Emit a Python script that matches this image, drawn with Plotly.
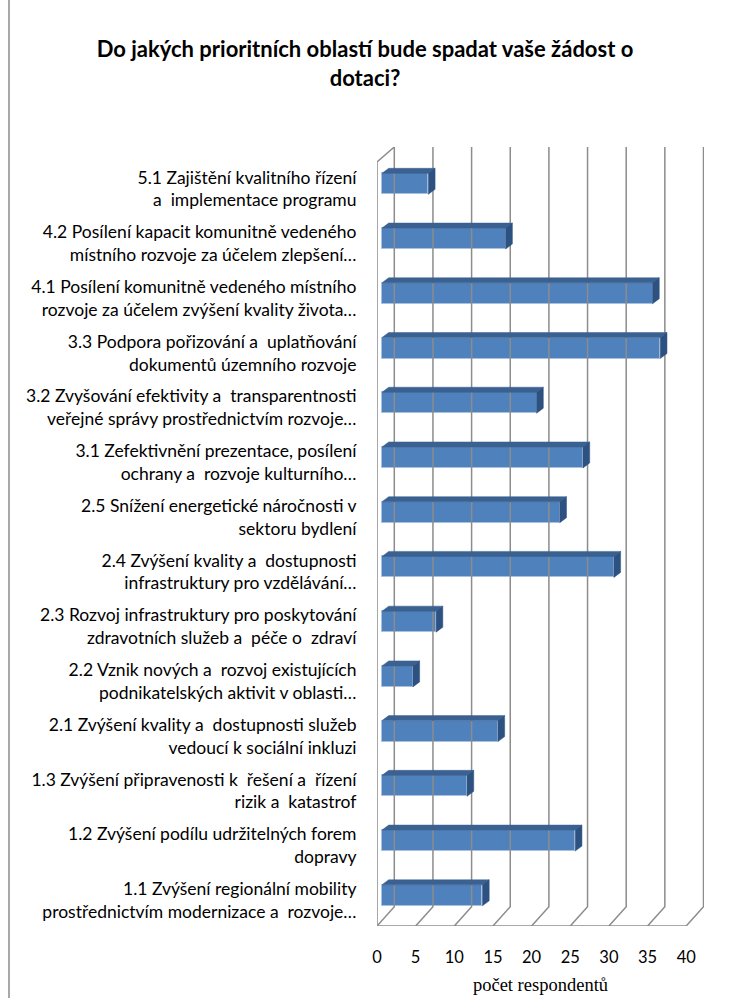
import plotly.graph_objects as go

# ---------------- data ----------------
categories = [
    "1.1 Zvýšení regionální mobility<br>prostřednictvím modernizace a  rozvoje…",
    "1.2 Zvýšení podílu udržitelných forem<br>dopravy",
    "1.3 Zvýšení připravenosti k  řešení a  řízení<br>rizik a  katastrof",
    "2.1 Zvýšení kvality a  dostupnosti služeb<br>vedoucí k sociální inkluzi",
    "2.2 Vznik nových a  rozvoj existujících<br>podnikatelských aktivit v oblasti…",
    "2.3 Rozvoj infrastruktury pro poskytování<br>zdravotních služeb a  péče o  zdraví",
    "2.4 Zvýšení kvality a  dostupnosti<br>infrastruktury pro vzdělávání…",
    "2.5 Snížení energetické náročnosti v<br>sektoru bydlení",
    "3.1 Zefektivnění prezentace, posílení<br>ochrany a  rozvoje kulturního…",
    "3.2 Zvyšování efektivity a  transparentnosti<br>veřejné správy prostřednictvím rozvoje…",
    "3.3 Podpora pořizování a  uplatňování<br>dokumentů územního rozvoje",
    "4.1 Posílení komunitně vedeného místního<br>rozvoje za účelem zvýšení kvality života…",
    "4.2 Posílení kapacit komunitně vedeného<br>místního rozvoje za účelem zlepšení…",
    "5.1 Zajištění kvalitního řízení<br>a  implementace programu",
]
values = [13, 25, 11, 15, 4, 7, 30, 23, 26, 20, 36, 35, 16, 6]
x_ticks = [0, 5, 10, 15, 20, 25, 30, 35, 40]
title_text = "Do jakých prioritních oblastí bude spadat vaše žádost o<br>dotaci?"
x_title = "počet respondentů"

# ---------------- geometry / style ----------------
W, H = 730, 998
ML, MR, MT, MB = 377, 26, 147, 72
PX_PER_X = 7.73          # pixels per respondent
PX_PER_Y = 54.73         # pixels per category
plot_w = W - ML - MR
plot_h = H - MT - MB
x_max = plot_w / PX_PER_X
y_min = -0.561
y_max = y_min + plot_h / PX_PER_Y

wall_dx = 17.3 / PX_PER_X      # depth of walls in x-units
wall_dy = 19.3 / PX_PER_Y      # depth of walls in y-units
floor_front = y_min
floor_back = floor_front + wall_dy
left_top_front = y_max - 15 / PX_PER_Y

bar_base = 5.0 / PX_PER_X      # bars sit part-way into the depth
label_shift = 5.0 / PX_PER_Y   # labels sit on the front plane, a little lower
bar_h = 21.0 / PX_PER_Y
bar_ddx = 6.7 / PX_PER_X
bar_ddy = 5.0 / PX_PER_Y

grid_col = "#8c8c8c"
front_col = "#4F81BD"
top_col = "#3B6191"
side_col = "#2D5180"

fig = go.Figure()

# gridlines (back wall + floor diagonals)
gx, gy = [], []
for v in x_ticks:
    gx += [v + wall_dx, v + wall_dx, v, None]
    gy += [y_max, floor_back, floor_front, None]
# floor front edge
gx += [x_ticks[0], x_ticks[-1], None]
gy += [floor_front, floor_front, None]
# left wall
gx += [0, 0, wall_dx, None]
gy += [floor_front, left_top_front, y_max, None]
fig.add_trace(go.Scatter(x=gx, y=gy, mode="lines",
                         line=dict(color=grid_col, width=1.5),
                         hoverinfo="skip", showlegend=False))

ypos = list(range(len(categories)))

# 3D faces of bars
for i, v in enumerate(values):
    yc = i
    yb = yc - bar_h / 2
    yt = yc + bar_h / 2
    x0 = bar_base
    x1 = bar_base + v
    # top face
    fig.add_trace(go.Scatter(
        x=[x0, x1, x1 + bar_ddx, x0 + bar_ddx, x0],
        y=[yt, yt, yt + bar_ddy, yt + bar_ddy, yt],
        mode="lines", fill="toself", fillcolor=top_col,
        line=dict(color=top_col, width=0.5),
        hoverinfo="skip", showlegend=False))
    # side face
    fig.add_trace(go.Scatter(
        x=[x1, x1 + bar_ddx, x1 + bar_ddx, x1, x1],
        y=[yb, yb + bar_ddy, yt + bar_ddy, yt, yb],
        mode="lines", fill="toself", fillcolor=side_col,
        line=dict(color=side_col, width=0.5),
        hoverinfo="skip", showlegend=False))

# front faces
fig.add_trace(go.Bar(
    x=values, y=ypos, base=bar_base,
    orientation="h", width=bar_h,
    marker=dict(color=front_col, line=dict(color="#A9C1E0", width=1)),
    showlegend=False))

fig.update_layout(
    width=W, height=H,
    margin=dict(l=ML, r=MR, t=MT, b=MB, autoexpand=False),
    paper_bgcolor="white", plot_bgcolor="white",
    font=dict(family="Lato", color="#000000"),
    title=dict(text=title_text, x=0.5, xanchor="center",
               y=1 - 57 / H, yanchor="middle", yref="container",
               font=dict(family="Lato", size=22, color="#000000", weight="bold")),
    xaxis=dict(range=[0, x_max], tickvals=x_ticks, ticktext=[str(t) for t in x_ticks],
               showgrid=False, zeroline=False, showline=False, automargin=False,
               ticks="outside", ticklen=16, tickcolor="rgba(0,0,0,0)",
               tickfont=dict(family="Lato", size=16.5, color="#000000"),
               title=dict(text=x_title, standoff=12,
                          font=dict(family="Liberation Serif", size=18.5, color="#000000")),
               fixedrange=True),
    yaxis=dict(range=[y_min, y_max], tickvals=[i - label_shift for i in ypos],
               ticktext=categories, automargin=False,
               showgrid=False, zeroline=False, showline=False,
               ticks="outside", ticklen=16, tickcolor="rgba(0,0,0,0)",
               tickfont=dict(family="Lato", size=17.5, color="#000000"),
               fixedrange=True),
    bargap=0,
    shapes=[dict(type="line", xref="paper", yref="paper",
                 x0=(9 - ML) / plot_w, x1=(9 - ML) / plot_w,
                 y0=-MB / plot_h, y1=1 + MT / plot_h,
                 line=dict(color="#8c8c8c", width=1.5))],
)

fig.write_html("out.html")
